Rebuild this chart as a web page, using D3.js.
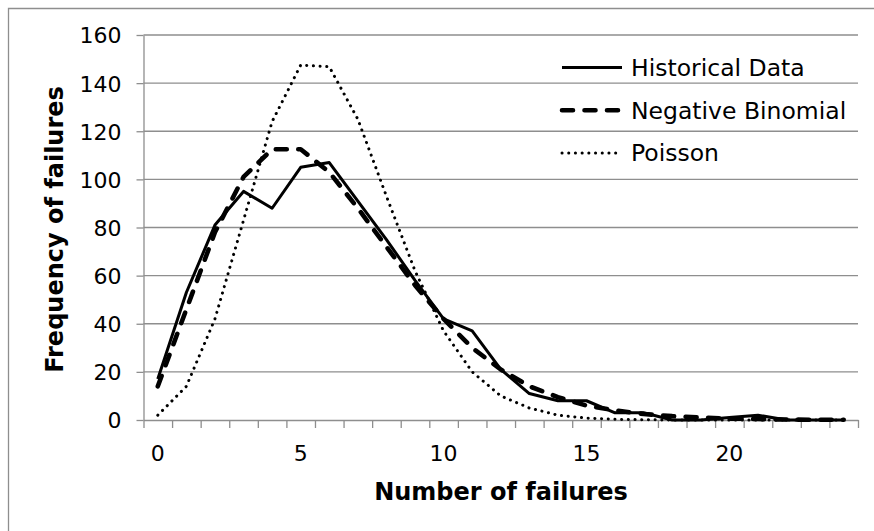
<!DOCTYPE html>
<meta charset="utf-8">
<style>
  body { margin: 0; background: #fff; }
  svg { display: block; font-family: "DejaVu Sans", Verdana, sans-serif; }
  .grid line { stroke: #8e8e8e; stroke-width: 1.3px; }
  .axis path, .axis line { stroke: #8e8e8e; stroke-width: 1.3px; }
  .axis text { fill: #000; font-size: 22px; font-family: "DejaVu Sans", Verdana, sans-serif; }
</style>
<body>
<svg width="874" height="531"></svg>

<script src="https://cdn.jsdelivr.net/npm/d3@7"></script>
<script>

// failures per period, 0..24
var failures = d3.range(0, 25);

var historical = [17, 53, 81, 95, 88, 105, 107, 91, 75, 58, 42, 37, 21, 11, 8, 8, 3, 3, 0, 0, 1, 2, 0, 0, 0];
var negBinomial = [14, 46, 78, 101, 112.5, 112.5, 103, 88, 72, 56, 42, 30, 21, 14, 9.5, 6, 4, 2.5, 1.6, 1, 0.6, 0.4, 0.2, 0.1, 0.1];
var poisson = [2, 14, 42, 83, 124, 147.5, 146.8, 125, 93, 62, 37, 20, 10, 5, 2, 0.8, 0.3, 0.1, 0, 0, 0, 0, 0, 0, 0];

var yTicks = [0, 20, 40, 60, 80, 100, 120, 140, 160];
var xLabels = [0, 5, 10, 15, 20];

var seriesNames = ["Historical Data", "Negative Binomial", "Poisson"];

var svg = d3.select("svg");

var plotLeft = 143.5, plotRight = 858, plotTop = 35, plotBottom = 420;

var x = d3.scaleBand().domain(failures).range([plotLeft, plotRight]).padding(0);
var xEdge = d3.scaleLinear().domain([-0.5, 24.5]).range([plotLeft, plotRight]);
var y = d3.scaleLinear().domain([0, 160]).range([plotBottom, plotTop]);

function cx(i) { return x(i) + x.bandwidth() / 2; }

// chart frame (only top/left visible in the original)
svg.append("path")
    .attr("d", "M8.5,531 V8.5 H874")
    .attr("fill", "none")
    .attr("stroke", "#8e8e8e")
    .attr("stroke-width", 1.3);

// horizontal gridlines
svg.append("g")
    .attr("class", "grid")
  .selectAll("line")
  .data(yTicks.slice(1))
  .enter().append("line")
    .attr("x1", plotLeft).attr("x2", plotRight)
    .attr("y1", function(d) { return y(d); })
    .attr("y2", function(d) { return y(d); });

// y axis
var yAxis = svg.append("g")
    .attr("class", "axis")
    .attr("transform", "translate(" + plotLeft + ",0)")
    .call(d3.axisLeft(y).tickValues(yTicks).tickSize(7).tickPadding(15).tickSizeOuter(0));
yAxis.selectAll("text").attr("dy", "0.36em");

// x axis: ticks on the category edges
svg.append("g")
    .attr("class", "axis")
    .attr("transform", "translate(0," + plotBottom + ")")
    .call(d3.axisBottom(xEdge).tickValues(d3.range(-0.5, 25, 1)).tickFormat("").tickSize(8).tickSizeOuter(0));

// x labels at category centres
svg.append("g")
    .attr("class", "axis")
  .selectAll("text")
  .data(xLabels)
  .enter().append("text")
    .attr("x", function(d) { return cx(d); })
    .attr("y", 461)
    .attr("text-anchor", "middle")
    .text(function(d) { return d; });

// axis titles
svg.append("text")
    .attr("x", 501)
    .attr("y", 500)
    .attr("text-anchor", "middle")
    .attr("font-weight", "bold")
    .attr("font-size", "24px")
    .text("Number of failures");

svg.append("text")
    .attr("transform", "translate(63," + ((plotTop + plotBottom) / 2 + 2) + ") rotate(-90)")
    .attr("text-anchor", "middle")
    .attr("font-weight", "bold")
    .attr("font-size", "24px")
    .text("Frequency of failures");

// series
var styles = [
  { width: 3, dash: null, cap: "butt" },
  { width: 4.6, dash: "11,11.5", cap: "round" },
  { width: 3, dash: "0.1,6.6", cap: "round" }
];
var allSeries = [historical, negBinomial, poisson];

var line = d3.line()
    .x(function(d, i) { return cx(i); })
    .y(function(d) { return y(d); });

// draw poisson first so the other lines sit on top
[2, 1, 0].forEach(function(k) {
  svg.append("path")
      .datum(allSeries[k])
      .attr("d", line)
      .attr("fill", "none")
      .attr("stroke", "#000")
      .attr("stroke-width", styles[k].width)
      .attr("stroke-dasharray", styles[k].dash)
      .attr("stroke-linecap", styles[k].cap)
      .attr("stroke-linejoin", "round");
});

// legend
var legend = svg.append("g")
  .selectAll("g")
  .data(seriesNames)
  .enter().append("g")
    .attr("transform", function(d, i) { return "translate(0," + (67.5 + i * 42.7) + ")"; });

legend.append("line")
    .attr("x1", 562).attr("x2", 622)
    .attr("y1", 0).attr("y2", 0)
    .attr("stroke", "#000")
    .attr("stroke-width", function(d, i) { return styles[i].width; })
    .attr("stroke-dasharray", function(d, i) { return styles[i].dash; })
    .attr("stroke-linecap", function(d, i) { return styles[i].cap; });

legend.append("text")
    .attr("x", 631)
    .attr("y", 8.5)
    .attr("font-size", "23.5px")
    .text(function(d) { return d; });

</script>
</body>
